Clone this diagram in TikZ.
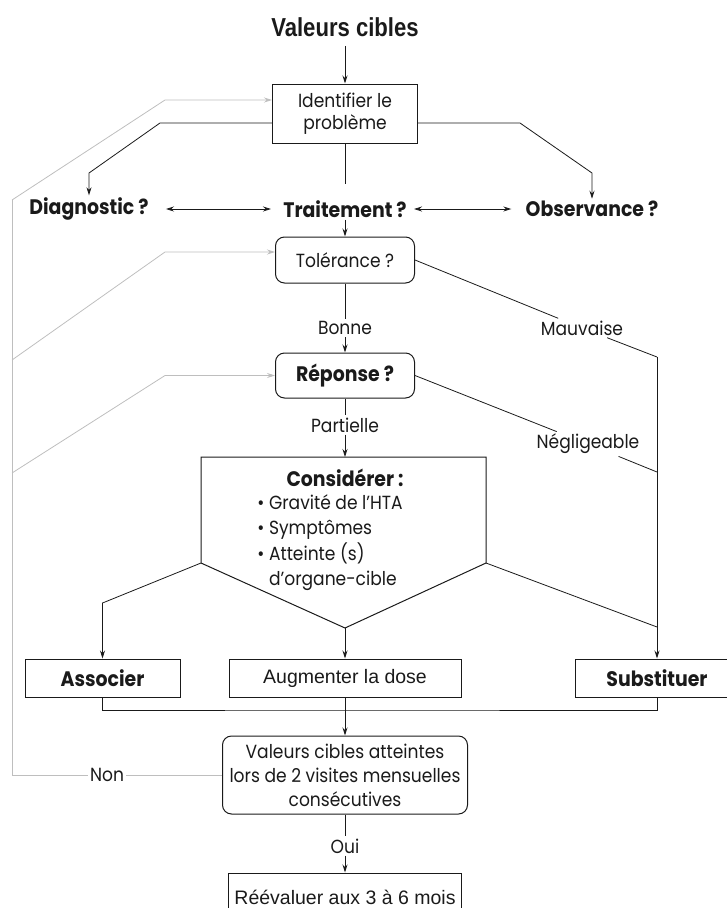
\documentclass[tikz,border=0pt]{standalone}
\usepackage{fontspec}
\setmainfont{Poppins}[FakeStretch=0.9]
\newfontfamily\helv{Liberation Sans}
\newfontfamily\helvhead{Liberation Sans}[FakeStretch=0.85]
\usetikzlibrary{arrows.meta,positioning,calc}
\definecolor{ink}{HTML}{1A1A1A}
\definecolor{retour}{HTML}{BEBEBE}
\newcommand{\Mid}{345}
\newcommand{\Back}{12}

\begin{document}
\begin{tikzpicture}[x=1pt, y=-1pt, ink, line width=0.8pt,
  font=\fontsize{19}{22}\selectfont,
  plainbox/.style={draw, line width=1pt, inner sep=2pt, align=center},
  roundbox/.style={plainbox, rounded corners=9pt},
  lbl/.style={inner sep=2pt, align=center},
  boldtxt/.style={font=\fontsize{21}{24}\selectfont\bfseries},
  helvtxt/.style={font=\helv\fontsize{19.5}{23}\selectfont},
  arr/.style={-{Stealth[length=8pt, width=5pt]}},
  dblarr/.style={{Stealth[length=8pt, width=5pt]}-{Stealth[length=8pt, width=5pt]}},
  feedback/.style={retour, line width=0.8pt}]

\useasboundingbox (0,0) rectangle (727,908);

% --- Start: target values and the problem ---------------------------------------
\node[lbl, font=\helvhead\fontsize{26}{30}\selectfont\bfseries] (title) at (\Mid, 27) {Valeurs cibles};
\node[plainbox, minimum width=145pt, minimum height=59pt] (ident) at (\Mid, 113.5) {Identifier le\\problème};
\node[lbl, boldtxt] (diag) at (89, 209) {Diagnostic ?};
\node[lbl, boldtxt] (trait) at (\Mid, 209) {Traitement ?};
\node[lbl, boldtxt] (obs) at (592, 209) {Observance ?};

\draw[arr, shorten <=7pt] (title) -- (ident);
\coordinate (dl) at (160, 123);
\coordinate (dr) at (520, 123);
\coordinate (diagk) at (89, 173);
\coordinate (obsk) at (592, 173);
\draw[arr] (dl -| ident.west) -- (dl) -- (diagk) -- (diag);
\draw[arr] (dr -| ident.east) -- (dr) -- (obsk) -- (obs);
\draw[shorten >=14pt] (ident) -- (trait);
\draw[dblarr, shorten <=15pt, shorten >=10pt] (diag.east) -- (trait.west);
\draw[dblarr, shorten <=5pt, shorten >=12pt] (trait.east) -- (obs.west);

% --- Tolerance, then response ------------------------------------------------------
\node[roundbox, minimum width=139pt, minimum height=46pt] (tol) at (\Mid, 260) {Tolérance ?};
\node[lbl] (bonne) at (\Mid, 328) {Bonne};
\node[lbl] (mauv) at (582, 328) {Mauvaise};
\node[roundbox, boldtxt, minimum width=139pt, minimum height=45pt] (rep) at (\Mid, 375.5) {Réponse ?};
\node[lbl] (part) at (\Mid, 425) {Partielle};
\node[lbl] (negl) at (588, 444) {Négligeable};

\draw[arr] (trait) -- (tol);
\draw (tol) -- (bonne);
\draw[arr] (bonne) -- (rep);
\coordinate (mk) at (657, 357);
\coordinate (nk) at (657, 472);
\draw (tol.east) -- (mauv) -- (mk);
\draw (rep.east) -- (negl) -- (nk);
\draw (rep) -- (part);

% --- What to weigh ----------------------------------------------------------------
\coordinate (ctl) at (201, 457);
\coordinate (ctr) at (486, 457);
\coordinate (cl) at (201, 563);
\coordinate (cr) at (486, 563);
\coordinate (cb) at (\Mid, 628);
\draw[line width=1pt] (ctl) -- (ctr) -- (cr) -- (cb) -- (cl) -- cycle;
\draw[arr] (part) -- (\Mid, 457);
\node[lbl, boldtxt] (cons) at (\Mid, 478) {Considérer :};
\node[lbl, anchor=north west, align=left, font=\fontsize{19}{25.5}\selectfont] (crit) at (255, 492)
  {• Gravité de l’HTA\\• Symptômes\\• Atteinte (s)\\\hphantom{• }d’organe-cible};

% --- Three ways to change the treatment ---------------------------------------------
\node[plainbox, boldtxt, minimum width=155pt, minimum height=38pt] (assoc) at (102.5, 678) {Associer};
\node[plainbox, helvtxt, minimum width=232pt, minimum height=38pt] (aug) at (\Mid, 678) {Augmenter la dose};
\node[plainbox, boldtxt, minimum width=164pt, minimum height=38pt] (sub) at (657, 678) {Substituer};

\coordinate (ak) at (102.5, 603);
\coordinate (sk) at (657, 627);
\draw[arr] (cl) -- (ak) -- (assoc);
\draw (cr) -- (sk);
\draw[arr] (mk) -- (sub);
\draw[arr] (cb) -- (aug);

% --- Check at the visits -------------------------------------------------------------
\coordinate (jn) at (\Mid, 710);
\draw (assoc.south) |- (jn) -| (sub.south);
\node[roundbox, minimum width=245pt, minimum height=78pt, font=\fontsize{19}{24}\selectfont] (val) at (\Mid, 775)
  {Valeurs cibles atteintes\\lors de 2 visites mensuelles\\consécutives};
\node[lbl] (oui) at (\Mid, 846) {Oui};
\node[plainbox, helvtxt, minimum width=233pt, minimum height=48pt] (reev) at (\Mid, 897) {Réévaluer aux 3 à 6 mois};
\draw[arr] (aug) -- (val);
\draw (val) -- (oui);
\draw[arr] (oui) -- (reev);

% --- Back to the start when not reached ------------------------------------------------
\node[lbl] (non) at (107, 775) {Non};
\coordinate (nonk) at (\Back, 775);
\draw[feedback] (val.west) -- (non);
\draw[feedback] (non) -- (nonk) -- (\Back, 200);
\foreach \y/\z/\tgt in {100/200/ident, 252/360/tol, 375.5/473/rep} {
  \draw[feedback, arr] (\Back, \z) -- (165, \y) -- (\tgt.west |- 0,\y);
}

\end{tikzpicture}
\end{document}
